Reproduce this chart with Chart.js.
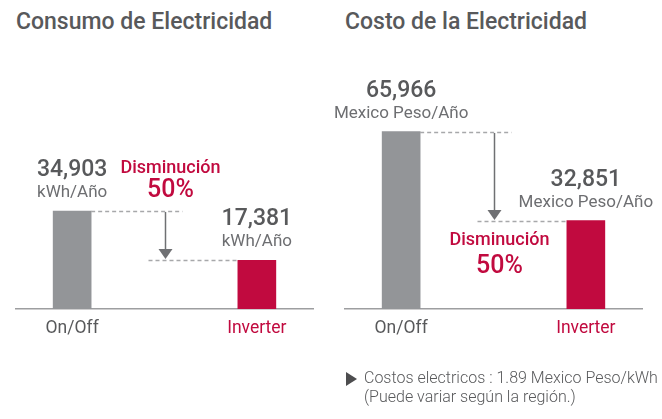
<!DOCTYPE html>
<html>
<head>
<meta charset="utf-8">
<script src="https://cdn.jsdelivr.net/npm/chart.js@4"></script>
<style>
  body { margin: 0; background: #fff; font-family: Roboto, sans-serif; }
  #wrap { position: relative; width: 662px; height: 419px; overflow: hidden; }
  .title { position: absolute; top: 11px; font-size: 23px; line-height: 22px; font-weight: 500; color: #58595b; white-space: nowrap; }
  .box { position: absolute; top: 0; width: 331px; height: 419px; }
  .note { position: absolute; left: 364px; top: 368px; font-size: 16px; line-height: 19px; font-weight: 300; color: #58595b; white-space: nowrap; }
  .tri { position: absolute; left: 346px; top: 372px; width: 0; height: 0;
         border-left: 11px solid #4d4d4f; border-top: 7px solid transparent; border-bottom: 7px solid transparent; }
</style>
</head>
<body>
<div id="wrap">
  <div class="title" style="left:16px">Consumo de Electricidad</div>
  <div class="title" style="left:345px">Costo de la Electricidad</div>
  <div class="box" style="left:0"><canvas id="left"></canvas></div>
  <div class="box" style="left:331px"><canvas id="right"></canvas></div>
  <div class="tri"></div>
  <div class="note">Costos electricos : 1.89 Mexico Peso/kWh<br>(Puede variar según la región.)</div>
</div>
<script>
const categories = ['On/Off', 'Inverter'];
const consumo = [34903, 17381];
const costo = [65966, 32851];
const consumoUnit = 'kWh/Año';
const costoUnit = 'Mexico Peso/Año';
const decreaseLabel = 'Disminución';
const decreasePct = '50%';

const gray = '#939598';
const crimson = '#c10a3f';
const textGray = '#58595b';

// dashed guides, arrow and value labels, placed from the chart's own scales
const notesPlugin = {
    id: 'notes',
    afterDatasetsDraw(chart, args, opts) {
        const {ctx, scales: {x, y}} = chart;
        const vals = chart.data.datasets[0].data.map(d => d.y);
        const half = 19;
        const x0 = x.getPixelForValue(0), x1 = x.getPixelForValue(1);
        const y0 = Math.round(y.getPixelForValue(vals[0])), y1 = Math.round(y.getPixelForValue(vals[1]));
        const ax = Math.round(x.getPixelForValue(0.5)) + 0.5;

        ctx.save();
        ctx.strokeStyle = '#a7a8aa';
        ctx.lineWidth = 1.4;
        ctx.setLineDash([4, 3]);
        ctx.beginPath();
        ctx.moveTo(x0 + half, y0 + 0.5); ctx.lineTo(ax + 17, y0 + 0.5);
        ctx.moveTo(ax - 17, y1 + 0.5); ctx.lineTo(x1 - half, y1 + 0.5);
        ctx.stroke();

        ctx.setLineDash([]);
        ctx.strokeStyle = '#6f7073';
        ctx.lineWidth = 1.5;
        ctx.beginPath();
        ctx.moveTo(ax, y0 + 1); ctx.lineTo(ax, y1 - 10);
        ctx.stroke();
        ctx.fillStyle = '#6f7073';
        ctx.beginPath();
        ctx.moveTo(ax - 7, y1 - 11); ctx.lineTo(ax + 7, y1 - 11); ctx.lineTo(ax, y1 - 1);
        ctx.closePath();
        ctx.fill();

        ctx.textAlign = 'center';
        ctx.textBaseline = 'alphabetic';
        vals.forEach((v, i) => {
            const cx = x.getPixelForValue(i);
            const top = y.getPixelForValue(v);
            ctx.fillStyle = textGray;
            ctx.font = '500 23px Roboto';
            ctx.fillText(v.toLocaleString('en-US'), cx, top - 35);
            ctx.fillStyle = '#6d6e71';
            ctx.font = '17px Roboto';
            ctx.fillText(opts.unit, cx, top - 14);
        });

        const dy = opts.below ? y1 + 24 : y0 - 38;
        ctx.fillStyle = crimson;
        ctx.font = '500 18px Roboto';
        ctx.fillText(decreaseLabel, ax + 5, dy);
        ctx.font = '500 25px Roboto';
        ctx.fillText(decreasePct, ax + 5, dy + opts.gap);
        ctx.restore();
    }
};

function makeChart(id, values, unit, yMax, pad, below, gap) {
    return new Chart(document.getElementById(id), {
        type: 'bar',
        data: {
            datasets: [{
                data: values.map((v, i) => ({x: i, y: v})),
                backgroundColor: [gray, crimson],
                barThickness: 38
            }]
        },
        options: {
            responsive: true,
            maintainAspectRatio: false,
            animation: false,
            layout: { padding: { left: pad[0], right: pad[1], top: 40, bottom: 0 } },
            plugins: {
                legend: { display: false },
                tooltip: { enabled: false },
                notes: { unit: unit, below: below, gap: gap }
            },
            scales: {
                x: {
                    type: 'linear',
                    offset: false,
                    bounds: 'data',
                    min: -0.304,
                    max: 1.304,
                    grid: { display: false, drawTicks: false, offset: false },
                    border: { display: true, color: '#9d9ea0', width: 1.5 },
                    afterDataLimits: scale => { scale.min = -0.304; scale.max = 1.304; },
                    afterBuildTicks: scale => { scale.ticks = [{value: 0}, {value: 1}]; },
                    afterFit: scale => { scale.height = 110; },
                    ticks: {
                        padding: 9,
                        font: { family: 'Roboto', size: 17.5 },
                        color: c => c.index === 1 ? crimson : textGray,
                        callback: v => categories[v]
                    }
                },
                y: { display: false, min: 0, max: yMax }
            }
        },
        plugins: [notesPlugin]
    });
}

makeChart('left', consumo, consumoUnit, 96000, [16, 18], false, 24);
makeChart('right', costo, costoUnit, 100000, [14, 20], true, 28);
</script>
</body>
</html>
